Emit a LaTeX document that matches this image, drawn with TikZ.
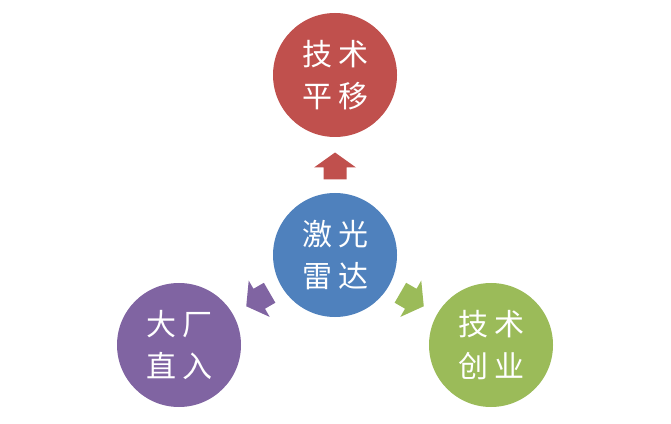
\documentclass[tikz,border=0pt]{standalone}
\usepackage{fontspec}
\newfontfamily\cjk{Noto Sans CJK SC}
\definecolor{cred}{HTML}{C0504D}
\definecolor{cblue}{HTML}{4F81BD}
\definecolor{cpurple}{HTML}{8064A2}
\definecolor{cgreen}{HTML}{9BBB59}
\newcommand\cgap{\hspace{6pt}}
\begin{document}
\begin{tikzpicture}[x=1pt,y=1pt,
  bub/.style={circle,minimum size=124pt,inner sep=0pt,text=white,
    font=\cjk\fontsize{30}{42}\selectfont,align=center},
  blockarrow/.pic={\fill[#1] (13.5,0)--(-1.5,21)--(-1.5,11.5)--(-13.5,11.5)
     --(-13.5,-11.5)--(-1.5,-11.5)--(-1.5,-21)--cycle;}]
\useasboundingbox (0,0) rectangle (671,423);
\node[bub,fill=cblue] (c) at (335,168) {激\cgap 光\\雷\cgap 达};
\node[bub,fill=cred] (t) at (335,348) {技\cgap 术\\平\cgap 移};
\node[bub,fill=cpurple] (l) at (179,78) {大\cgap 厂\\直\cgap 入};
\node[bub,fill=cgreen] (r) at (491,78) {技\cgap 术\\创\cgap 业};
\path (c.center) ++(90:89) pic[rotate=90]{blockarrow=cred};
\path (c.center) ++(210:89) pic[rotate=210]{blockarrow=cpurple};
\path (c.center) ++(330:89) pic[rotate=330]{blockarrow=cgreen};
\end{tikzpicture}
\end{document}
